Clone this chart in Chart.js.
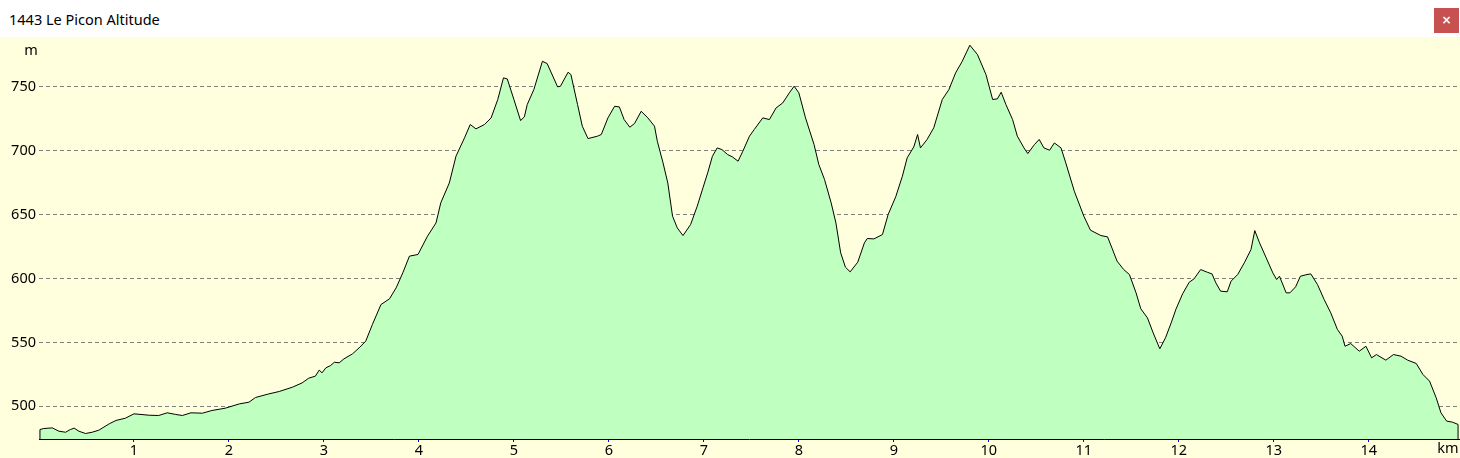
<!DOCTYPE html>
<html>
<head>
<meta charset="utf-8">
<title>1443 Le Picon Altitude</title>
<script src="https://cdn.jsdelivr.net/npm/chart.js@4.4.1/dist/chart.umd.min.js"></script>
<style>
  html, body { margin: 0; padding: 0; background: #ffffdd; }
  .titlebar {
    position: relative; height: 37px; background: #fff;
    font-family: "Noto Sans", sans-serif; font-size: 14.5px; color: #000;
  }
  .titlebar span { position: absolute; left: 9px; top: 9px; }
  .close {
    position: absolute; left: 1434px; top: 8px; width: 25px; height: 25px;
    background: #c75050; color: #fff; font: bold 12px "DejaVu Sans", sans-serif;
    text-align: center; line-height: 24px;
  }
  #wrap { width: 1460px; height: 421px; }
</style>
</head>
<body>
<div class="titlebar"><span>1443 Le Picon Altitude</span><div class="close">×</div></div>
<div id="wrap"><canvas id="profile" width="1460" height="421"></canvas></div>
<script>
// distance along the track (km) and altitude (m)
const distKm = [0.01, 0.05, 0.14, 0.21, 0.28, 0.33, 0.37, 0.42, 0.49, 0.56, 0.63, 0.74, 0.81, 0.91, 1.00,
  1.16, 1.26, 1.35, 1.44, 1.51, 1.60, 1.72, 1.82, 1.96, 2.11, 2.21, 2.28, 2.42, 2.53, 2.67, 2.77, 2.84,
  2.91, 2.95, 2.98, 3.02, 3.07, 3.11, 3.16, 3.21, 3.30, 3.37, 3.44, 3.51, 3.60, 3.69, 3.76, 3.83, 3.90,
  3.99, 4.09, 4.18, 4.23, 4.32, 4.39, 4.48, 4.54, 4.60, 4.69, 4.76, 4.83, 4.89, 4.93, 5.00, 5.07, 5.11,
  5.14, 5.21, 5.30, 5.35, 5.46, 5.49, 5.57, 5.60, 5.67, 5.72, 5.78, 5.88, 5.92, 5.99, 6.06, 6.11, 6.16,
  6.22, 6.27, 6.34, 6.41, 6.48, 6.51, 6.57, 6.62, 6.67, 6.72, 6.78, 6.86, 6.93, 6.99, 7.04, 7.09, 7.14,
  7.19, 7.25, 7.30, 7.36, 7.41, 7.48, 7.53, 7.62, 7.69, 7.76, 7.83, 7.90, 7.95, 8.00, 8.07, 8.16, 8.21,
  8.27, 8.34, 8.39, 8.44, 8.49, 8.54, 8.62, 8.69, 8.72, 8.79, 8.88, 8.94, 9.02, 9.09, 9.14, 9.21, 9.25,
  9.28, 9.35, 9.42, 9.51, 9.58, 9.65, 9.72, 9.80, 9.88, 9.97, 10.04, 10.09, 10.13, 10.18, 10.25, 10.30,
  10.37, 10.41, 10.48, 10.53, 10.58, 10.64, 10.69, 10.76, 10.81, 10.90, 11.00, 11.07, 11.18, 11.25,
  11.30, 11.35, 11.42, 11.48, 11.55, 11.60, 11.67, 11.73, 11.80, 11.86, 11.92, 11.97, 12.04, 12.11,
  12.16, 12.23, 12.30, 12.35, 12.39, 12.44, 12.51, 12.55, 12.62, 12.69, 12.76, 12.80, 12.85, 12.92,
  12.99, 13.03, 13.06, 13.13, 13.17, 13.23, 13.28, 13.35, 13.39, 13.46, 13.53, 13.60, 13.67, 13.72,
  13.75, 13.81, 13.90, 13.97, 14.03, 14.08, 14.18, 14.26, 14.34, 14.41, 14.50, 14.57, 14.64, 14.71,
  14.76, 14.82, 14.88, 14.94];

const altitudeM = [481.8, 482.6, 483.1, 480.5, 479.7, 481.8, 482.9, 480.5, 478.7, 479.7, 481.3, 486.3,
  488.9, 490.7, 494.1, 493.0, 492.8, 494.9, 493.6, 492.8, 494.9, 494.6, 496.7, 498.5, 501.9, 503.2,
  506.9, 509.7, 511.6, 515.0, 518.3, 522.0, 523.6, 528.3, 526.2, 530.1, 531.9, 534.5, 534.0, 537.1,
  541.0, 545.7, 551.0, 564.0, 579.6, 584.1, 592.7, 604.4, 617.5, 618.8, 633.1, 643.5, 659.2, 674.8,
  695.7, 710.1, 720.5, 717.1, 720.5, 725.7, 740.1, 757.0, 756.2, 740.1, 723.6, 726.5, 736.1, 747.9,
  770.0, 768.2, 750.0, 750.5, 761.4, 759.6, 736.1, 719.2, 709.5, 711.4, 712.7, 725.7, 734.8, 734.3,
  724.4, 718.4, 721.3, 730.9, 725.7, 719.2, 707.4, 690.5, 674.8, 648.8, 639.6, 633.6, 642.2, 656.6,
  670.9, 682.7, 695.7, 702.2, 700.9, 697.0, 695.2, 691.8, 699.6, 711.4, 716.6, 725.7, 724.4, 733.5,
  737.4, 745.3, 750.5, 745.3, 725.7, 704.8, 689.2, 677.5, 659.2, 643.5, 620.1, 608.9, 605.2, 612.8,
  627.9, 631.3, 631.0, 634.4, 650.1, 664.0, 680.1, 694.4, 703.0, 712.7, 702.2, 708.8, 717.9, 740.1,
  747.9, 760.9, 770.0, 782.6, 775.3, 759.6, 740.1, 740.6, 745.8, 736.1, 724.4, 711.4, 702.2, 697.8,
  704.8, 708.8, 702.2, 700.4, 706.1, 702.2, 690.5, 668.3, 648.8, 637.8, 633.6, 632.6, 623.2, 613.6,
  607.0, 603.1, 588.8, 576.3, 569.2, 557.5, 545.0, 553.6, 565.3, 576.0, 588.0, 597.1, 599.7, 607.0,
  604.9, 603.6, 596.6, 590.1, 589.6, 597.9, 603.1, 612.3, 622.7, 637.5, 627.9, 616.2, 604.4, 599.2,
  601.8, 588.8, 588.8, 593.5, 601.8, 603.1, 603.6, 595.3, 583.6, 573.1, 560.1, 554.9, 547.0, 549.1,
  543.1, 547.0, 537.9, 540.5, 536.1, 540.5, 539.2, 536.1, 533.5, 524.9, 519.7, 506.6, 494.9, 488.4,
  487.6, 485.8];

const kmTicks = [1, 2, 3, 4, 5, 6, 7, 8, 9, 10, 11, 12, 13, 14];
const altTicks = [500, 550, 600, 650, 700, 750];

const FONT = "'Noto Sans', sans-serif";

// axis units + closing the profile down to the base line at both ends
const extras = {
  id: "extras",
  afterDatasetsDraw(chart) {
    const { ctx, chartArea } = chart;
    const pts = chart.getDatasetMeta(0).data;
    ctx.save();
    ctx.strokeStyle = "#000";
    ctx.lineWidth = 1;
    [pts[0], pts[pts.length - 1]].forEach((p) => {
      ctx.beginPath();
      ctx.moveTo(p.x, p.y);
      ctx.lineTo(p.x, chartArea.bottom);
      ctx.stroke();
    });
    ctx.fillStyle = "#000";
    ctx.font = "14.5px " + FONT;
    ctx.textAlign = "center";
    ctx.textBaseline = "middle";
    ctx.fillText("m", 31, 14);
    ctx.fillText("km", 1448, 412);
    ctx.restore();
  },
};

new Chart(document.getElementById("profile"), {
  type: "line",
  data: {
    datasets: [
      {
        data: distKm.map((d, i) => ({ x: d, y: altitudeM[i] })),
        borderColor: "#000",
        borderWidth: 1,
        backgroundColor: "#bfffbf",
        fill: "start",
        pointRadius: 0,
        tension: 0,
      },
    ],
  },
  options: {
    responsive: false,
    devicePixelRatio: 1,
    animation: false,
    layout: { padding: { top: 0, right: 1, left: 0, bottom: 0 } },
    plugins: { legend: { display: false }, tooltip: { enabled: false } },
    scales: {
      x: {
        type: "linear",
        min: 0,
        max: 14.95,
        afterBuildTicks: (axis) => { axis.ticks = kmTicks.map((v) => ({ value: v })); },
        afterFit: (axis) => { axis.height = 19; axis.paddingLeft = 0; axis.paddingRight = 0; },
        grid: { drawOnChartArea: false, drawTicks: true, tickLength: 3, tickColor: "#0000ff" },
        border: { display: true, color: "#000", width: 1 },
        ticks: { padding: 0, color: "#000", font: { size: 14.5, family: FONT }, maxRotation: 0, autoSkip: false },
      },
      y: {
        min: 474.4,
        max: 789,
        afterBuildTicks: (axis) => { axis.ticks = altTicks.map((v) => ({ value: v })); },
        afterFit: (axis) => { axis.width = 39; axis.paddingTop = 0; axis.paddingBottom = 0; },
        grid: { color: "#808080", drawTicks: false },
        border: { display: false, dash: [4, 3] },
        ticks: { padding: 3, color: "#000", font: { size: 14.5, family: FONT } },
      },
    },
  },
  plugins: [extras],
});
</script>
</body>
</html>
